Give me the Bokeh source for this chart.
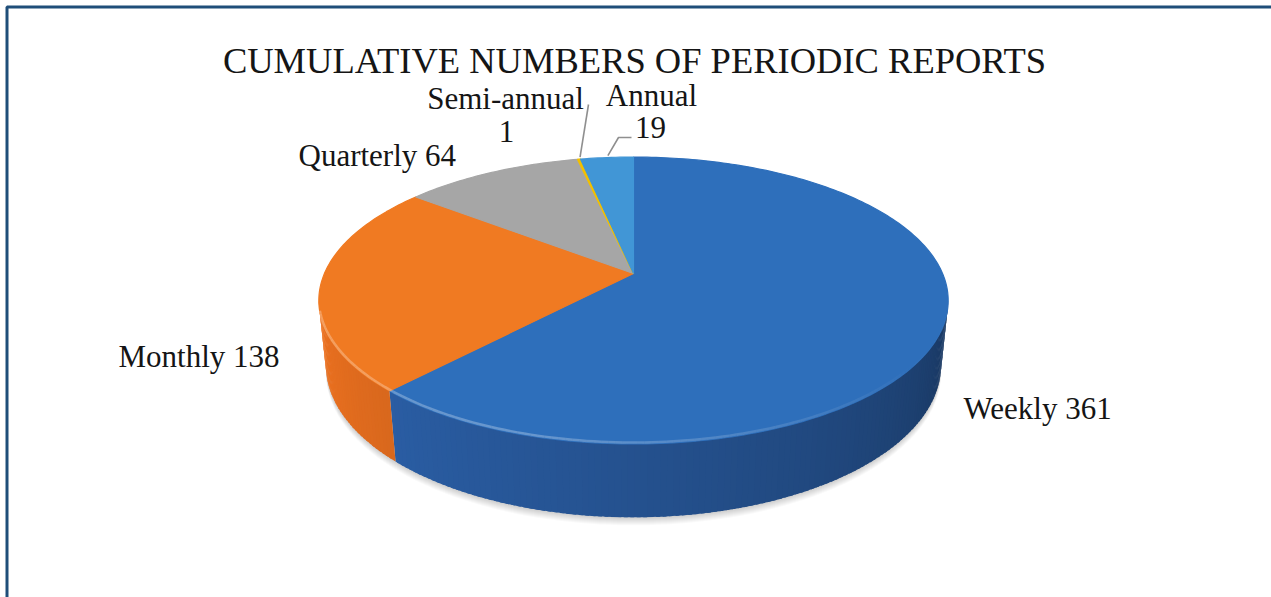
import numpy as np
from bokeh.plotting import figure
from bokeh.models import Range1d
from bokeh.core.properties import value
from bokeh.embed import file_html
from bokeh.resources import INLINE

# ---- data -------------------------------------------------------------
categories = ["Weekly", "Monthly", "Quarterly", "Semi-annual", "Annual"]
counts = [361, 138, 64, 1, 19]
title_text = "CUMULATIVE NUMBERS OF PERIODIC REPORTS"

# ---- styling ----------------------------------------------------------
top_colors = ["#2e6fbb", "#f07a22", "#a6a6a6", "#f2c000", "#4196d6"]
side_colors = ["#2e66b3", "#ee7220", "#959595", "#e0b000", "#3a88c6"]
FONT = value("Liberation Serif")

W, H = 1271, 597
p = figure(width=W, height=H, x_range=Range1d(0, W), y_range=Range1d(H, 0),
           output_backend="svg", toolbar_location=None, min_border=0)
p.axis.visible = False
p.grid.visible = False
p.outline_line_color = None
p.background_fill_color = "white"
p.border_fill_color = "white"

# ---- perspective projection of a tilted disc --------------------------
CX, CY = 633, 273
TILT = np.radians(26.6)
DIST = 4.75
FOCAL = 1468
THICK = 0.235
cT, sT = np.cos(TILT), np.sin(TILT)


def project(theta, z=0.0):
    X = np.sin(theta)
    Y = np.cos(theta)
    depth = Y * cT - z * sT + DIST
    return CX + X / depth * FOCAL, CY - (Y * sT + z * cT) / depth * FOCAL


def shade(hex_color, m):
    h = hex_color.lstrip("#")
    rgb = [int(h[i:i + 2], 16) for i in (0, 2, 4)]
    return "#%02x%02x%02x" % tuple(max(0, min(255, int(round(c * m)))) for c in rgb)


total = float(sum(counts))
bounds = 2 * np.pi * np.concatenate([[0.0], np.cumsum(counts)]) / total
theta_sil = np.arccos(-cT / DIST)          # silhouette angles of the rim
vis_lo, vis_hi = theta_sil, 2 * np.pi - theta_sil

# soft shadow under the disc
full = np.linspace(0, 2 * np.pi, 240)
bx, by = project(full, -THICK)
for k in range(1, 9):
    p.patch(bx, by + k, fill_color="#000000", fill_alpha=0.025, line_color=None)

# side walls, shaded from left (lit) to right (dark)
step = np.radians(1.0)
for i in range(len(counts)):
    lo, hi = max(bounds[i], vis_lo), min(bounds[i + 1], vis_hi)
    if lo >= hi:
        continue
    n = max(2, int(np.degrees(hi - lo)) + 1)
    ts = np.linspace(lo, hi, n)
    xs_list, ys_list, cols = [], [], []
    for t0, t1 in zip(ts[:-1], ts[1:]):
        t1x = min(t1 + 0.6 * step, hi)   # overlap strips so no seams show
        tx0, ty0 = project(t0)
        tx1, ty1 = project(t1x)
        bx0, by0 = project(t0, -THICK)
        bx1, by1 = project(t1x, -THICK)
        xs_list.append([tx0, tx1, bx1, bx0])
        ys_list.append([ty0, ty1, by1, by0])
        f = (0.5 * (t0 + t1) - vis_lo) / (vis_hi - vis_lo)
        cols.append(shade(side_colors[i], 0.52 + 0.48 * f ** 0.8))
    p.patches(xs_list, ys_list, fill_color=cols, line_color=None)

# top faces
for i in range(len(counts)):
    n = max(3, int(np.degrees(bounds[i + 1] - bounds[i])) + 2)
    ts = np.linspace(bounds[i], bounds[i + 1], n)
    ax, ay = project(ts)
    xs = np.concatenate([[CX], ax])
    ys = np.concatenate([[CY], ay])
    p.patch(xs, ys, fill_color=top_colors[i], line_color=top_colors[i],
            line_width=1.2 if counts[i] > 5 else 1.6)

# bevel highlight along the front rim, fading out towards the dark side
rim = np.linspace(np.radians(125), vis_hi - 0.08, 120)
rx, ry = project(rim)
seg_x = [[rx[k], rx[k + 1]] for k in range(len(rim) - 1)]
seg_y = [[ry[k] - 1.5, ry[k + 1] - 1.5] for k in range(len(rim) - 1)]
seg_a = [0.28 * min(1.0, (rim[k] - rim[0]) / np.radians(70)) for k in range(len(rim) - 1)]
p.multi_line(seg_x, seg_y, line_color="white", line_alpha=seg_a, line_width=2.5)

# ---- labels -----------------------------------------------------------
label_pos = {
    "Weekly": (963, 408),
    "Monthly": (118, 356),
    "Quarterly": (298, 155),
}
lx, ly, lt = [], [], []
for cat, val in zip(categories, counts):
    if cat in label_pos:
        lx.append(label_pos[cat][0])
        ly.append(label_pos[cat][1])
        lt.append(f"{cat} {val}")
p.text(x=lx, y=ly, text=lt, text_font=FONT, text_font_size=value("31px"),
       text_align="left", text_baseline="middle", text_color="#151515")

# two-line labels for the small slices, with leader lines
i_semi = categories.index("Semi-annual")
i_ann = categories.index("Annual")
p.text(x=[505, 506], y=[98, 131], text=[categories[i_semi], str(counts[i_semi])],
       text_font=FONT, text_font_size=value("31px"), text_align="center",
       text_baseline="middle", text_color="#151515")
p.text(x=[651, 650], y=[95, 127], text=[categories[i_ann], str(counts[i_ann])],
       text_font=FONT, text_font_size=value("31px"), text_align="center",
       text_baseline="middle", text_color="#151515")

mid_semi = 0.5 * (bounds[i_semi] + bounds[i_semi + 1])
sx0, sy0 = project(mid_semi)
p.line([588, sx0 + 1], [104, sy0 - 2], line_color="#8f8f8f", line_width=1.6)
mid_ann = 0.5 * (bounds[i_ann] + bounds[i_ann + 1])
ax0, ay0 = project(mid_ann)
p.line([631, 618, ax0 + 1], [137, 137, ay0 - 2], line_color="#8f8f8f", line_width=1.6)

# title
p.text(x=[634], y=[60], text=[title_text], text_font=FONT,
       text_font_size=value("36.5px"), text_align="center", text_baseline="middle",
       text_color="#151515")

# frame
p.line([6.5, 6.5, 1300], [700, 6.5, 6.5], line_color="#1f4e79", line_width=3)

open("out.html", "w").write(file_html(p, INLINE))
